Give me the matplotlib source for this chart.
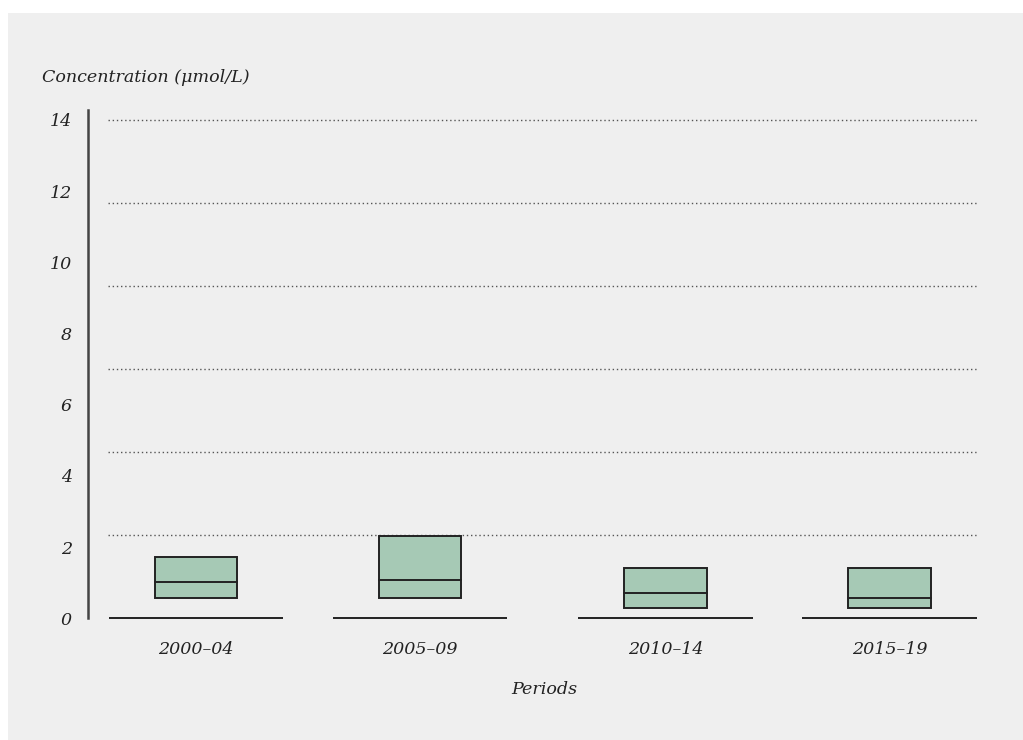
import matplotlib
matplotlib.use("Agg")
import matplotlib.pyplot as plt
from matplotlib.patches import Rectangle

# Concentration summaries per period (µmol/L)
periods = ["2000–04", "2005–09", "2010–14", "2015–19"]
q1 = [0.58, 0.58, 0.29, 0.29]
median = [1.01, 1.08, 0.71, 0.58]
q3 = [1.71, 2.31, 1.42, 1.42]
yticks = [0, 2, 4, 6, 8, 10, 12, 14]
grid_levels = [14 * k / 6 for k in range(1, 7)]

positions = [0, 1, 2.096, 3.096]
box_w = 0.368
base_w = 0.777

W, H, DPI = 1023, 740, 100
fig = plt.figure(figsize=(W / DPI, H / DPI), dpi=DPI, facecolor="white")

# grey panel
fig.patches.append(Rectangle((8 / W, 0), 1 - 8 / W, 1 - 13 / H,
                             transform=fig.transFigure, facecolor="#efefef",
                             edgecolor="none", zorder=-10))

ax_l, ax_r = 88 / W, 978 / W
ax_b, ax_t = 1 - 618.3 / H, 1 - 110 / H
ax = fig.add_axes([ax_l, ax_b, ax_r - ax_l, ax_t - ax_b])
ax.set_facecolor("none")
ax.set_ylim(0, 14.28)
ax.set_xlim(-0.482, 3.491)

font = dict(family=["DejaVu Serif"], style="italic",
            size=12.6, color="#222222")

# dotted gridlines
ax.hlines(grid_levels, -0.393, 3.487, colors="#555555", linewidth=1.0,
          linestyles=(0, (1, 2)), zorder=1)

for x, lo, med, hi in zip(positions, q1, median, q3):
    ax.add_patch(Rectangle((x - box_w / 2, lo), box_w, hi - lo,
                           facecolor="#a6c9b5", edgecolor="#222222",
                           linewidth=1.4, zorder=3))
    ax.plot([x - box_w / 2, x + box_w / 2], [med, med], color="#222222",
            linewidth=1.4, zorder=4)
    ax.plot([x - base_w / 2, x + base_w / 2], [0, 0], color="#222222",
            linewidth=1.4, zorder=4, clip_on=False, solid_capstyle="butt")

for s in ["top", "right", "bottom"]:
    ax.spines[s].set_visible(False)
ax.spines["left"].set_color("#444444")
ax.spines["left"].set_linewidth(1.8)

ax.set_yticks(yticks)
ax.set_yticklabels([str(v) for v in yticks], **font)
ax.tick_params(axis="y", length=0, pad=11.5)
ax.set_xticks(positions)
ax.set_xticklabels(periods, **font)
ax.tick_params(axis="x", length=0, pad=16.5)

fig.text(42 / W, 1 - 77 / H, "Concentration (μmol/L)", ha="left",
         va="center", **font)
fig.text(544 / W, 1 - 690 / H, "Periods", ha="center", va="center", **font)

fig.savefig("out.png", dpi=DPI, facecolor="white")
